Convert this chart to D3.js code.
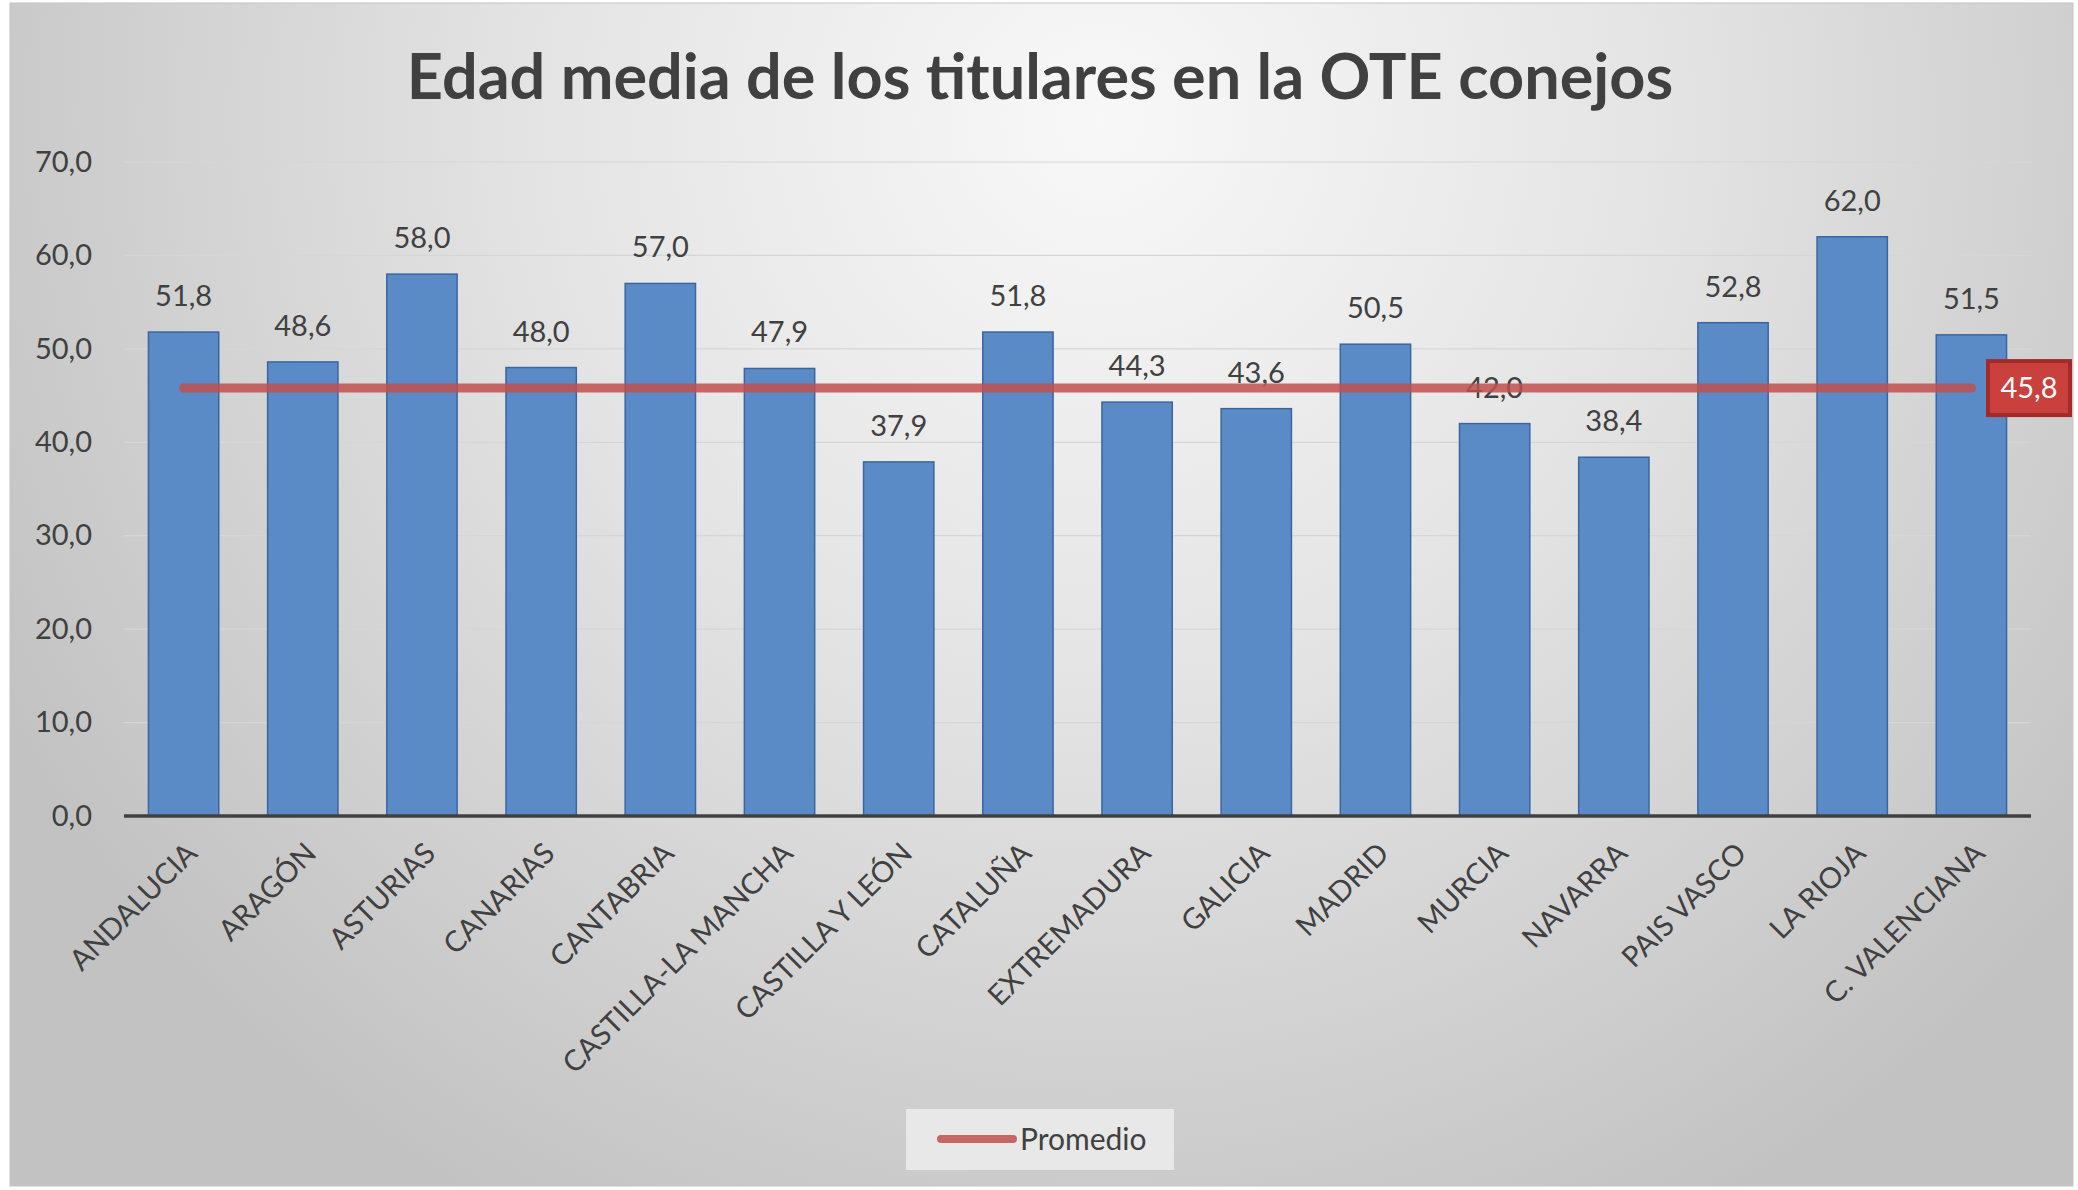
<!DOCTYPE html>
<html>
<head>
<meta charset="utf-8">
<script src="https://cdn.jsdelivr.net/npm/d3@7"></script>
<style>
  html, body { margin: 0; padding: 0; background: #ffffff; }
  svg { display: block; }
</style>
</head>
<body>
<script>
// data
const regiones = ['ANDALUCIA','ARAGÓN','ASTURIAS','CANARIAS','CANTABRIA','CASTILLA-LA MANCHA','CASTILLA Y LEÓN','CATALUÑA','EXTREMADURA','GALICIA','MADRID','MURCIA','NAVARRA','PAIS VASCO','LA RIOJA','C. VALENCIANA'];
const edadMedia = [51.8, 48.6, 58.0, 48.0, 57.0, 47.9, 37.9, 51.8, 44.3, 43.6, 50.5, 42.0, 38.4, 52.8, 62.0, 51.5];
const promedio = 45.8;
const yTicks = [0, 10, 20, 30, 40, 50, 60, 70];

const width = 2078, height = 1190;
const fmt = v => v.toFixed(1).replace('.', ',');
const font = 'Lato, "Open Sans", sans-serif';
const txtColor = '#404040';

const svg = d3.select('body').append('svg')
    .attr('width', width).attr('height', height);

const defs = svg.append('defs');
const bg = defs.append('radialGradient')
    .attr('id', 'bgGrad')
    .attr('gradientUnits', 'userSpaceOnUse')
    .attr('cx', 1100).attr('cy', 120).attr('r', 1250)
    .attr('fx', 1100).attr('fy', 120);
bg.append('stop').attr('offset', '0%').attr('stop-color', '#f8f8f8');
bg.append('stop').attr('offset', '45%').attr('stop-color', '#e4e4e4');
bg.append('stop').attr('offset', '100%').attr('stop-color', '#c2c2c2');

// chart area frame
svg.append('rect')
    .attr('x', 10).attr('y', 3)
    .attr('width', 2063).attr('height', 1183)
    .attr('fill', 'url(#bgGrad)')
    .attr('stroke', '#c4c4c4').attr('stroke-width', 1);

// scales
const x = d3.scaleBand()
    .domain(regiones)
    .range([124, 2031])
    .paddingInner(0.41)
    .paddingOuter(0.205);

const y = d3.scaleLinear()
    .domain([0, 70])
    .range([816, 162]);

// gridlines
svg.append('g')
    .selectAll('line')
    .data(yTicks.filter(d => d > 0))
    .join('line')
    .attr('x1', 124).attr('x2', 2031)
    .attr('y1', d => y(d)).attr('y2', d => y(d))
    .attr('stroke', '#d6d6d6').attr('stroke-width', 1.2);

// y axis labels
const yAxis = svg.append('g')
    .attr('transform', 'translate(92,0)')
    .call(d3.axisLeft(y).tickValues(yTicks).tickFormat(fmt).tickSize(0).tickPadding(0));
yAxis.select('.domain').remove();
yAxis.selectAll('text')
    .style('font-family', font)
    .style('font-size', '29px')
    .attr('fill', txtColor);

// bars
svg.append('g')
    .selectAll('rect')
    .data(edadMedia)
    .join('rect')
    .attr('x', (d, i) => x(regiones[i]))
    .attr('y', d => y(d))
    .attr('width', x.bandwidth())
    .attr('height', d => y(0) - y(d))
    .attr('fill', '#5b8bc6')
    .attr('stroke', '#3a66a0')
    .attr('stroke-width', 1.5);

// x axis line
svg.append('line')
    .attr('x1', 124).attr('x2', 2031)
    .attr('y1', y(0)).attr('y2', y(0))
    .attr('stroke', '#404040').attr('stroke-width', 3.5);

// x labels
svg.append('g')
    .selectAll('text')
    .data(regiones)
    .join('text')
    .attr('transform', d => 'translate(' + (x(d) + x.bandwidth() / 2 + 8) + ',' + 848 + ') rotate(-45)')
    .attr('text-anchor', 'end')
    .attr('dy', '0.35em')
    .style('font-family', font)
    .style('font-size', '29px')
    .attr('fill', txtColor)
    .text(d => d);

// data labels
svg.append('g')
    .selectAll('text')
    .data(edadMedia)
    .join('text')
    .attr('x', (d, i) => x(regiones[i]) + x.bandwidth() / 2)
    .attr('y', d => y(d) - 26)
    .attr('text-anchor', 'middle')
    .style('font-family', font)
    .style('font-size', '29px')
    .attr('fill', txtColor)
    .text(fmt);

// average line
const xFirst = x(regiones[0]) + x.bandwidth() / 2;
const xLast = x(regiones[regiones.length - 1]) + x.bandwidth() / 2;
svg.append('line')
    .attr('x1', xFirst).attr('x2', xLast)
    .attr('y1', y(promedio)).attr('y2', y(promedio))
    .attr('stroke', '#c0504d').attr('stroke-opacity', 0.85)
    .attr('stroke-width', 9)
    .attr('stroke-linecap', 'round');

// average label
svg.append('rect')
    .attr('x', 1988).attr('y', y(promedio) - 27)
    .attr('width', 82).attr('height', 54)
    .attr('fill', '#c9403d')
    .attr('stroke', '#a22a28').attr('stroke-width', 4);
svg.append('text')
    .attr('x', 2029).attr('y', y(promedio))
    .attr('dy', '0.35em')
    .attr('text-anchor', 'middle')
    .style('font-family', font)
    .style('font-size', '29px')
    .attr('fill', '#ffffff')
    .text(fmt(promedio));

// title
svg.append('text')
    .attr('x', 1040).attr('y', 99)
    .attr('text-anchor', 'middle')
    .style('font-family', font)
    .style('font-weight', 700)
    .style('font-size', '63px')
    .attr('fill', txtColor)
    .text('Edad media de los titulares en la OTE conejos');

// legend
svg.append('rect')
    .attr('x', 906).attr('y', 1109)
    .attr('width', 268).attr('height', 61)
    .attr('fill', '#e8e8e8');
svg.append('line')
    .attr('x1', 941).attr('x2', 1013)
    .attr('y1', 1139).attr('y2', 1139)
    .attr('stroke', '#c0504d').attr('stroke-opacity', 0.85)
    .attr('stroke-width', 8)
    .attr('stroke-linecap', 'round');
svg.append('text')
    .attr('x', 1020).attr('y', 1139)
    .attr('dy', '0.35em')
    .style('font-family', font)
    .style('font-size', '30px')
    .attr('fill', txtColor)
    .text('Promedio');
</script>
</body>
</html>
